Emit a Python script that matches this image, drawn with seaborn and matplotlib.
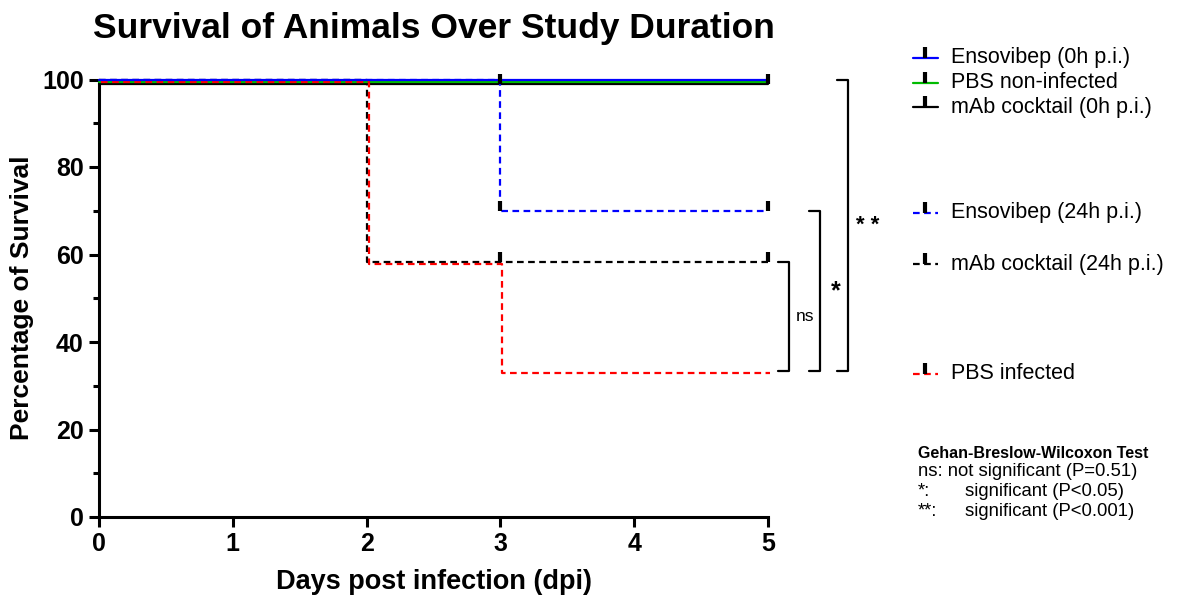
import numpy as np
import pandas as pd
import matplotlib
import matplotlib.pyplot as plt
import matplotlib.transforms as mtransforms
import seaborn as sns

matplotlib.use("Agg")
sns.set_style("ticks")
plt.rcParams['font.family'] = ['Liberation Sans', 'DejaVu Sans']
plt.rcParams['text.color'] = 'black'
plt.rcParams['axes.labelcolor'] = 'black'
plt.rcParams['xtick.color'] = 'black'
plt.rcParams['ytick.color'] = 'black'
plt.rcParams['axes.edgecolor'] = 'black'

# survival (%) per day
days = [0, 1, 2, 3, 4, 5]
groups = ["Ensovibep (0h p.i.)", "PBS non-infected", "mAb cocktail (0h p.i.)",
          "Ensovibep (24h p.i.)", "mAb cocktail (24h p.i.)", "PBS infected"]
ensovibep_0h = [100, 100, 100, 100, 100, 100]
pbs_noninfected = [100, 100, 100, 100, 100, 100]
mab_0h = [100, 100, 100, 100, 100, 100]
ensovibep_24h = [100, 100, 100, 70, 70, 70]
mab_24h = [100, 100, 58.3, 58.3, 58.3, 58.3]
pbs_infected = [100, 100, 58.3, 33.3, 33.3, 33.3]
# censored observations (days)
censor_days = [[], [], [3, 5], [3, 5], [3, 5], []]

colors = ["#0000ff", "#00bb00", "#000000", "#0000ff", "#000000", "#ff0000"]
dashed = [False, False, False, True, True, True]

series = [ensovibep_0h, pbs_noninfected, mab_0h, ensovibep_24h, mab_24h, pbs_infected]
df = pd.DataFrame({
    "day": days * len(groups),
    "survival": [v for s in series for v in s],
    "group": [g for g in groups for _ in days],
})

fig = plt.figure(figsize=(11.88, 6.01), dpi=100)
ax = fig.add_axes([99 / 1188, 1 - 517 / 601, (768 - 99) / 1188, (517 - 79.5) / 601])

dash_map = {g: ((3, 2) if d else "") for g, d in zip(groups, dashed)}
sns.lineplot(data=df, x="day", y="survival", hue="group", style="group",
             hue_order=groups, style_order=groups,
             palette=dict(zip(groups, colors)), dashes=dash_map,
             drawstyle="steps-post", estimator=None, legend=False,
             linewidth=1.6, ax=ax)

# small offsets like the original so overlapping curves stay visible (pixels)
offsets = {groups[1]: (0, -2), groups[2]: (0, -4), groups[5]: (2, -2)}
line_tr = {}
for line, g in zip(ax.lines, groups):
    line.set_clip_on(False)
    tr = line.get_transform()
    if g in offsets:
        dx, dy = offsets[g]
        tr = mtransforms.offset_copy(tr, fig=fig, x=dx, y=dy, units='dots')
        line.set_transform(tr)
    line_tr[g] = tr
ax.lines[0].set_zorder(5)
ax.lines[1].set_zorder(4)
ax.lines[5].set_zorder(4.5)

# censor ticks
for g, s, cd in zip(groups, series, censor_days):
    if cd:
        ys = [s[days.index(d)] for d in cd]
        ax.plot(cd, ys, linestyle='none', marker=2, markersize=7,
                markeredgewidth=3, color='black', clip_on=False, zorder=6,
                transform=line_tr[g])

ax.set_xlim(0, 5)
ax.set_ylim(0, 100)
ax.set_xticks(range(0, 6))
ax.set_yticks(range(0, 101, 20))
ax.set_yticks(range(10, 100, 20), minor=True)
sns.despine(ax=ax)
for sp in ["left", "bottom"]:
    ax.spines[sp].set_linewidth(2.2)
ax.tick_params(which='major', length=7, width=2.2, labelsize=18, pad=4)
ax.tick_params(which='minor', length=4, width=2.2)
for lab in ax.get_xticklabels() + ax.get_yticklabels():
    lab.set_fontweight('bold')

ax.set_title("Survival of Animals Over Study Duration", fontsize=25.5,
             fontweight='bold', pad=30)
ax.set_xlabel("Days post infection (dpi)", fontsize=19.5, fontweight='bold', labelpad=9)
ax.set_ylabel("Percentage of Survival", fontsize=19, fontweight='bold', labelpad=6)

# significance brackets
def bracket(x_end, top, bottom, label, lx, fs, weight):
    x0 = x_end - 0.085
    ax.plot([x0, x_end, x_end, x0], [top, top, bottom, bottom], color='black',
            lw=1.6, clip_on=False)
    ax.text(lx, (top + bottom) / 2, label, fontsize=fs, fontweight=weight,
            ha='left', va='center')

bracket(5.16, mab_24h[-1], pbs_infected[-1], "ns", 5.205, 12.5, 'normal')
bracket(5.39, ensovibep_24h[-1], pbs_infected[-1], "*", 5.47, 18, 'bold')
bracket(5.60, ensovibep_0h[-1], pbs_infected[-1], "* *", 5.66, 16, 'bold')

# legend, GraphPad style: 24h entries sit at the level of their curves
blend = mtransforms.blended_transform_factory(fig.transFigure, ax.transData)
hx0, hx1, tx = 913 / 1188, 938 / 1188, 951 / 1188
top_rows = [1 - 58 / 601, 1 - 83 / 601, 1 - 107 / 601]
for i, g in enumerate(groups):
    if i < 3:
        tr, y = fig.transFigure, top_rows[i]
    else:
        tr, y = blend, series[i][-1] - 0.5
    ls = (0, (3, 2)) if dashed[i] else '-'
    fig.add_artist(plt.Line2D([hx0, hx1], [y, y], transform=tr, color=colors[i],
                              lw=1.6, linestyle=ls))
    fig.add_artist(plt.Line2D([(hx0 + hx1) / 2], [y], transform=tr, marker=2,
                              markersize=8, markeredgewidth=3, color='black',
                              linestyle='none'))
    fig.text(tx, y, g, transform=tr, fontsize=15.5, ha='left', va='center')

# test summary
sx = 918 / 1188
fs = 13.3
fig.text(sx, 1 - 453 / 601, "Gehan-Breslow-Wilcoxon Test", fontsize=11.5,
         fontweight='bold', va='center')
fig.text(sx, 1 - 472 / 601, "ns: not significant (P=0.51)", fontsize=fs, va='center')
fig.text(sx, 1 - 491 / 601, "*:", fontsize=fs, va='center')
fig.text(965 / 1188, 1 - 491 / 601, "significant (P<0.05)", fontsize=fs, va='center')
fig.text(sx, 1 - 511 / 601, "**:", fontsize=fs, va='center')
fig.text(965 / 1188, 1 - 511 / 601, "significant (P<0.001)", fontsize=fs, va='center')

fig.savefig("out.png", dpi=100)
